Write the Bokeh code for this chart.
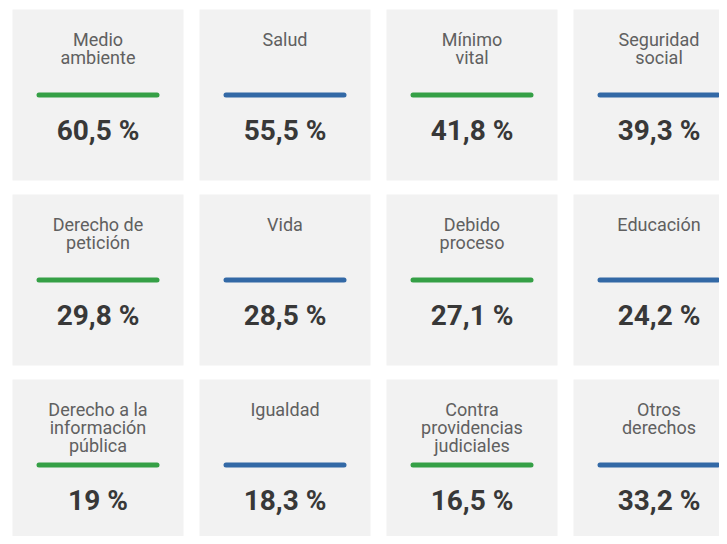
from bokeh.plotting import figure
from bokeh.models import Range1d
from bokeh.core.properties import value
from bokeh.embed import file_html
from bokeh.resources import INLINE

# ---- data ----
categories = [
    "Medio\nambiente", "Salud", "Mínimo\nvital", "Seguridad\nsocial",
    "Derecho de\npetición", "Vida", "Debido\nproceso", "Educación",
    "Derecho a la\ninformación\npública", "Igualdad", "Contra\nprovidencias\njudiciales", "Otros\nderechos",
]
percentages = [60.5, 55.5, 41.8, 39.3, 29.8, 28.5, 27.1, 24.2, 19.0, 18.3, 16.5, 33.2]
groups = ["verde", "azul", "verde", "azul",
          "verde", "azul", "verde", "azul",
          "verde", "azul", "verde", "azul"]

palette = {"verde": "#35a046", "azul": "#3369a6"}

# ---- layout (pixel coords) ----
NCOL = 4
CARD = 171
PITCH_X = 187
PITCH_Y = 185
X0, Y0 = 12, 9


def fmt(v):
    s = f"{v:.1f}".replace(".", ",")
    if s.endswith(",0"):
        s = s[:-2]
    return s + " %"


left, right, top, bottom = [], [], [], []
bx0, bx1, by, bcol = [], [], [], []
vx, vy, vtext = [], [], []
tx, ty, ttext = [], [], []
for i, (cat, v, g) in enumerate(zip(categories, percentages, groups)):
    r, c = divmod(i, NCOL)
    l = X0 + c * PITCH_X
    t = Y0 + r * PITCH_Y
    left.append(l); right.append(l + CARD); top.append(t); bottom.append(t + CARD)
    cx = l + CARD / 2
    bx0.append(l + 26.5); bx1.append(l + CARD - 26.5); by.append(t + 85.5)
    bcol.append(palette[g])
    vx.append(cx); vy.append(t + 121); vtext.append(fmt(v))
    for k, line in enumerate(cat.split("\n")):
        tx.append(cx); ty.append(t + 29.5 + 18.3 * k); ttext.append(line)

p = figure(width=719, height=536, output_backend="svg", toolbar_location=None,
           x_range=Range1d(0, 719), y_range=Range1d(536, 0), min_border=0)
p.axis.visible = False
p.grid.visible = False
p.outline_line_color = None
p.background_fill_color = "white"
p.border_fill_color = "white"

p.quad(left=left, right=right, top=top, bottom=bottom,
       fill_color="#f2f2f2", line_color=None)
p.segment(x0=bx0, x1=bx1, y0=by, y1=by, line_color=bcol, line_width=5, line_cap="round")
p.text(x=tx, y=ty, text=ttext, text_align="center", text_baseline="alphabetic",
       text_font=value("Roboto"), text_font_size="18px", text_color="#606060")
p.text(x=vx, y=vy, text=vtext, text_align="center", text_baseline="alphabetic",
       text_font=value("Roboto"), text_font_style="bold", text_font_size="28px",
       text_color="#383838")

open("out.html", "w").write(file_html(p, INLINE))
